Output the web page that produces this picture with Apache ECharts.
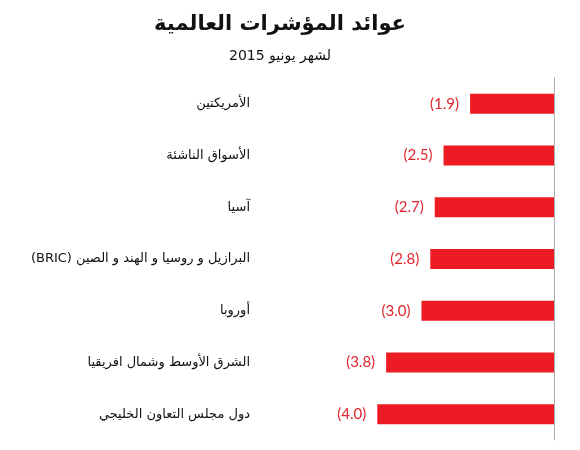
<!DOCTYPE html>
<html><head><meta charset="utf-8">
<script src="https://cdn.jsdelivr.net/npm/echarts@6/dist/echarts.min.js"></script>
<style>html,body{margin:0;padding:0;background:#fff}#c{width:580px;height:450px}</style>
</head><body><div id="c"></div>
<script>
const categories = ["الأمريكتين","الأسواق الناشئة","آسيا","البرازيل و روسيا و الهند و الصين (BRIC)","أوروبا","الشرق الأوسط وشمال افريقيا","دول مجلس التعاون الخليجي"];
const values = [-1.9,-2.5,-2.7,-2.8,-3.0,-3.8,-4.0];
const titleText = "عوائد المؤشرات العالمية";
const subtitleText = "لشهر يونيو 2015";

const chart = echarts.init(document.getElementById('c'));
chart.setOption({
  backgroundColor:'#fff',
  animation:false,
  title:{
    text:titleText, subtext:subtitleText, left:275, textAlign:'center', top:9, itemGap:14,
    textStyle:{fontFamily:'DejaVu Sans', fontWeight:'bold', fontSize:21, color:'#111'},
    subtextStyle:{fontFamily:'DejaVu Sans', fontSize:14, color:'#111'}
  },
  grid:{left:258, right:26, top:78, bottom:10},
  xAxis:{type:'value', min:-6.7, max:0, show:false},
  yAxis:[{
    type:'category', data:categories, inverse:true, position:'left',
    axisLine:{show:false}, axisTick:{show:false},
    axisLabel:{margin:8, fontFamily:'DejaVu Sans', fontSize:13, color:'#111',
      formatter:v=>'\u202B'+v+'\u202C'}
  },{
    type:'category', data:categories, inverse:true, position:'right',
    axisLine:{show:true, onZero:false, lineStyle:{color:'#b0b0b0', width:1}}, axisTick:{show:false},
    axisLabel:{show:false}
  }],
  series:[{
    type:'bar', data:values, barWidth:20, yAxisIndex:0,
    itemStyle:{color:'#ED1C24'},
    label:{show:true, position:'left', distance:11, color:'#E0262F', fontFamily:'Lato', fontSize:15,
      formatter:p=>'('+Math.abs(p.value).toFixed(1)+')'}
  }]
});
</script></body></html>
